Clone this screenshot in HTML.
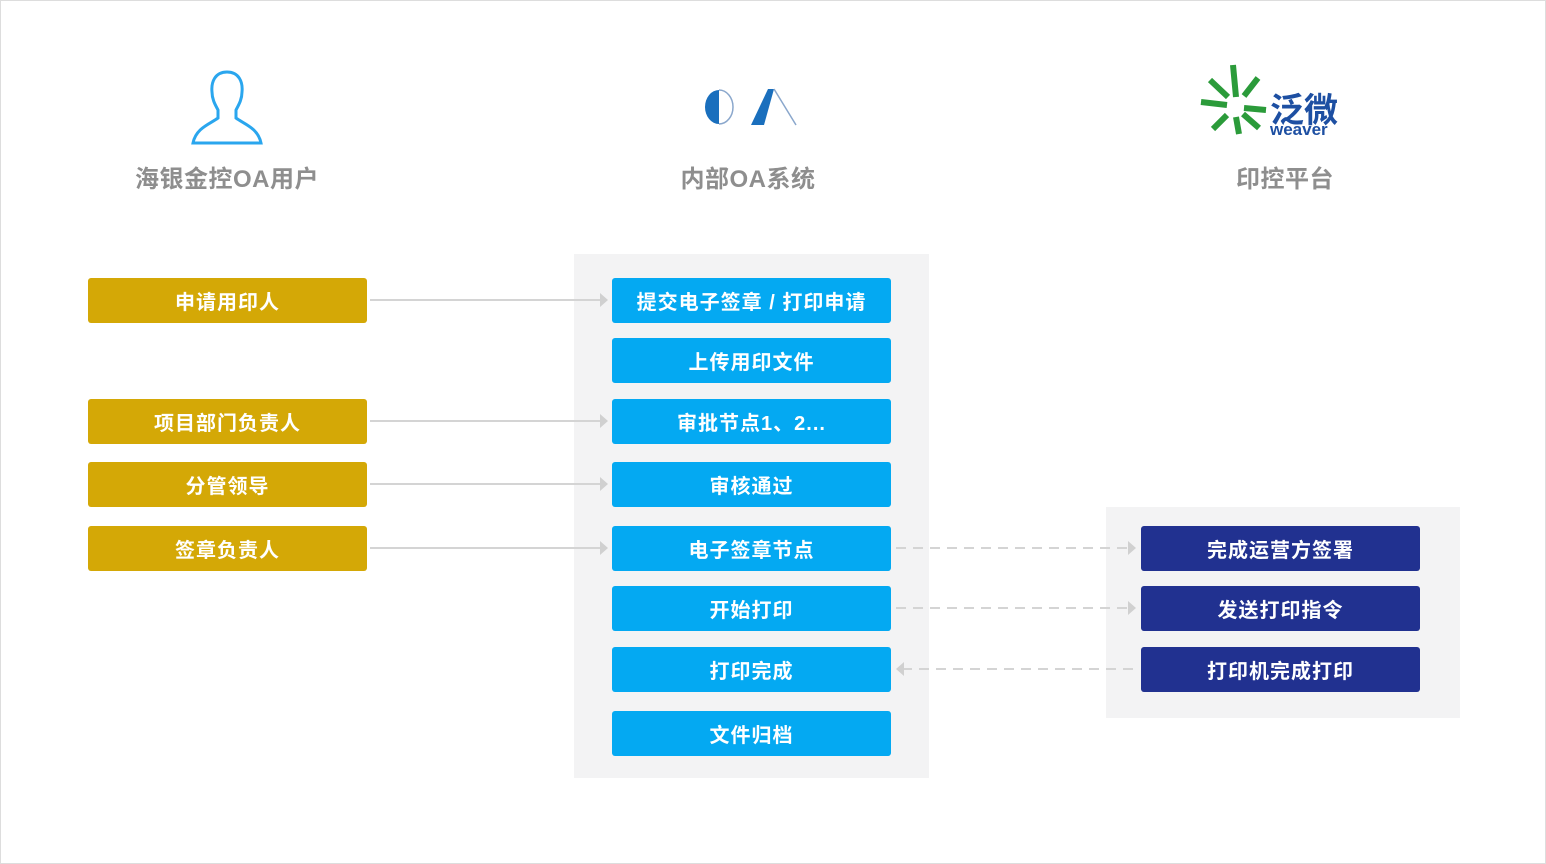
<!DOCTYPE html>
<html><head><meta charset="utf-8"><style>
body{margin:0;width:1546px;height:864px;background:#fff;position:relative;overflow:hidden;font-family:"Liberation Sans","Noto Sans CJK SC",sans-serif}
.frame{position:absolute;left:0;top:0;width:1544px;height:862px;border:1px solid #ddd}
.b{position:absolute;height:45px;border-radius:3px;color:#fff;font-weight:bold;font-size:20px;letter-spacing:1px;display:flex;align-items:center;justify-content:center}
.y{left:88px;width:279px;background:#d4a806}
.c{left:612px;width:279px;background:#04a9f2}
.n{left:1141px;width:279px;background:#213190}
.p{position:absolute;background:#f3f3f4}
.t{position:absolute;color:#8e8e8e;font-weight:bold;font-size:24px;letter-spacing:0.5px;text-align:center;width:300px}
</style></head><body>
<div class="frame"></div>
<div class="p" style="left:574px;top:254px;width:355px;height:524px"></div>
<div class="p" style="left:1106px;top:507px;width:354px;height:211px"></div>
<svg width="1546" height="864" style="position:absolute;left:0;top:0">
<g fill="none" stroke="#2aa6ee" stroke-width="3"><path d="M227 72c-12 0-16 10-15 20 0 8 4 14 6 18v8c-8 6-22 10-25 25h68c-3-15-17-19-25-25v-8c2-4 6-10 6-18 1-10-3-20-15-20z"/></g>
<path d="M719 90a14 17 0 0 0 0 34z" fill="#1a6fbd"/><path d="M719 90a14 17 0 0 1 0 34" fill="none" stroke="#8aa7cc" stroke-width="1.5"/>
<path d="M751 125l17-36h6l-10 36z" fill="#1a6fbd"/><path d="M774 89l22 36" stroke="#8aa7cc" stroke-width="1.5"/>
<g stroke="#2b9b3a" stroke-width="6" fill="none"><path d="M1233 65l3 32M1236 117l3 17M1201 102l26 3M1244 108l22 2M1210 80l18 17M1243 114l16 14M1258 78l-14 18M1227 115l-14 14"/></g>
<text x="1270" y="122" fill="#1d4fa2" font-size="34" font-weight="bold" font-family="Liberation Sans,Noto Sans CJK SC,sans-serif">泛微</text>
<text x="1270" y="135" fill="#1d4fa2" font-size="17" font-weight="bold" font-family="Liberation Sans,sans-serif">weaver</text>
<g stroke="#d4d4d4" stroke-width="2"><path d="M370 300H603M370 421H603M370 484H603M370 548H603"/>
<path d="M896 548H1132M896 608H1132M902 669H1138" stroke-dasharray="10 7"/></g>
<g fill="#d0d0d0"><path d="M600 293l8 7-8 7zM600 414l8 7-8 7zM600 477l8 7-8 7zM600 541l8 7-8 7zM1128 541l8 7-8 7zM1128 601l8 7-8 7zM904 662l-8 7 8 7z"/></g>
</svg>
<div class="t" style="left:77px;top:159px">海银金控OA用户</div>
<div class="t" style="left:598px;top:159px">内部OA系统</div>
<div class="t" style="left:1135px;top:159px">印控平台</div>
<div class="b y" style="top:278px">申请用印人</div>
<div class="b y" style="top:399px">项目部门负责人</div>
<div class="b y" style="top:462px">分管领导</div>
<div class="b y" style="top:526px">签章负责人</div>
<div class="b c" style="top:278px">提交电子签章 / 打印申请</div>
<div class="b c" style="top:338px">上传用印文件</div>
<div class="b c" style="top:399px">审批节点1、2...</div>
<div class="b c" style="top:462px">审核通过</div>
<div class="b c" style="top:526px">电子签章节点</div>
<div class="b c" style="top:586px">开始打印</div>
<div class="b c" style="top:647px">打印完成</div>
<div class="b c" style="top:711px">文件归档</div>
<div class="b n" style="top:526px">完成运营方签署</div>
<div class="b n" style="top:586px">发送打印指令</div>
<div class="b n" style="top:647px">打印机完成打印</div>
</body></html>
